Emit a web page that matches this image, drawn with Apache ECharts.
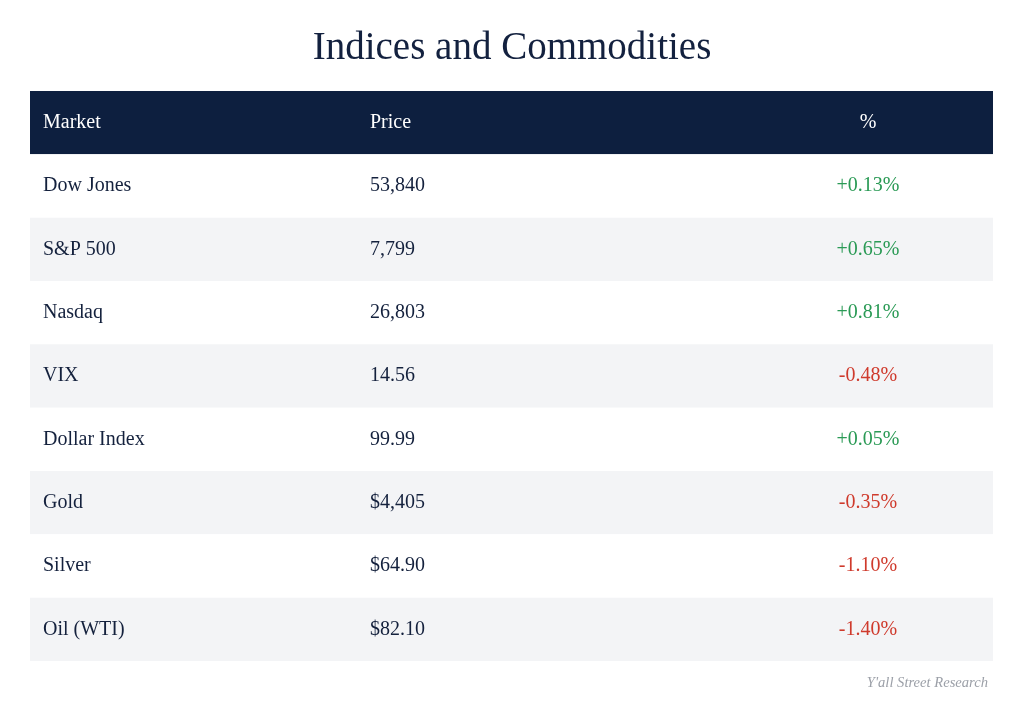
<!DOCTYPE html>
<html>
<head>
<meta charset="utf-8">
<script src="https://cdn.jsdelivr.net/npm/echarts@6/dist/echarts.min.js"></script>
<style>html,body{margin:0;padding:0;background:#fff;}#c{width:1024px;height:704px;}</style>
</head>
<body>
<div id="c"></div>
<script>
var headers = ['Market', 'Price', '%'];
var markets = ['Dow Jones', 'S&P 500', 'Nasdaq', 'VIX', 'Dollar Index', 'Gold', 'Silver', 'Oil (WTI)'];
var prices = ['53,840', '7,799', '26,803', '14.56', '99.99', '$4,405', '$64.90', '$82.10'];
var changes = [0.13, 0.65, 0.81, -0.48, 0.05, -0.35, -1.10, -1.40];

var FONT = "'Liberation Serif', 'DejaVu Serif', serif";
var NAVY = '#0d1f3f';
var TEXT = '#14213d';
var GREEN = '#2a9a55';
var RED = '#cf3a2c';
var STRIPE = '#f3f4f6';

function fmtPct(v) { return (v >= 0 ? '+' : '') + v.toFixed(2) + '%'; }

var rowCats = ['header'].concat(markets);
var seriesData = rowCats.map(function (c, i) { return [0, i]; });

var chart = echarts.init(document.getElementById('c'), null, { renderer: 'canvas' });
chart.setOption({
  backgroundColor: '#ffffff',
  animation: false,
  title: [{
    text: 'Indices and Commodities',
    left: 'center',
    top: 24,
    textStyle: { fontFamily: FONT, fontSize: 39, fontWeight: 'normal', color: '#13213f' }
  }, {
    text: "Y'all Street Research",
    right: 31,
    top: 671,
    textStyle: { fontFamily: FONT, fontSize: 14.6, fontStyle: 'italic', fontWeight: 'normal', color: '#9ca0a8' }
  }],
  grid: { left: 30, right: 31, top: 91, bottom: 43 },
  xAxis: { type: 'value', min: 0, max: 1, show: false },
  yAxis: { type: 'category', data: rowCats, inverse: true, show: false },
  series: [{
    type: 'custom',
    data: seriesData,
    renderItem: function (params, api) {
      var i = api.value(1);
      var cs = params.coordSys;
      var center = api.coord([0, i]);
      var h = api.size([0, 1])[1];
      var top = center[1] - h / 2;
      var children = [];
      var fill = i === 0 ? NAVY : (i % 2 === 0 ? STRIPE : '#ffffff');
      children.push({ type: 'rect', shape: { x: cs.x, y: top, width: cs.width, height: h }, style: { fill: fill } });
      var cy = center[1];
      var t1, t2, t3, c3, col;
      if (i === 0) {
        t1 = headers[0]; t2 = headers[1]; t3 = headers[2]; col = '#ffffff'; c3 = '#ffffff';
      } else {
        t1 = markets[i - 1]; t2 = prices[i - 1]; t3 = fmtPct(changes[i - 1]); col = TEXT;
        c3 = changes[i - 1] >= 0 ? GREEN : RED;
      }
      var base = { fontFamily: FONT, fontSize: 20, verticalAlign: 'middle' };
      children.push({ type: 'text', style: Object.assign({ text: t1, x: cs.x + 13, y: cy, fill: col, align: 'left' }, base) });
      children.push({ type: 'text', style: Object.assign({ text: t2, x: cs.x + 340, y: cy, fill: col, align: 'left' }, base) });
      children.push({ type: 'text', style: Object.assign({ text: t3, x: cs.x + 838, y: cy, fill: c3, align: 'center' }, base) });
      return { type: 'group', children: children };
    }
  }]
});
</script>
</body>
</html>
